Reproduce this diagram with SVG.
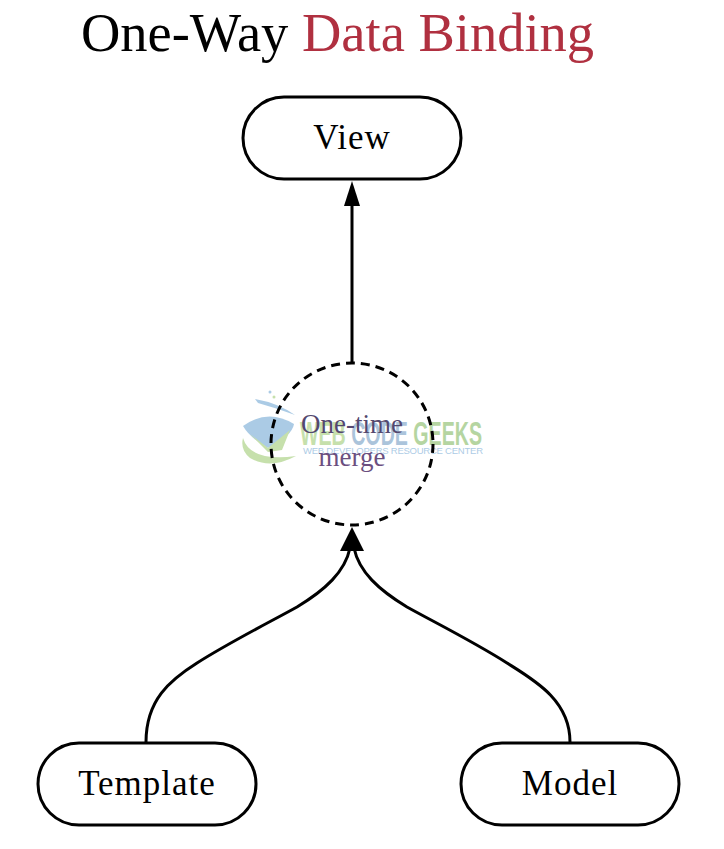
<svg xmlns="http://www.w3.org/2000/svg" width="724" height="849" viewBox="0 0 724 849">
<style>
text{font-family:"Liberation Serif",serif;text-anchor:middle}
.n{fill:#fff;stroke:#000;stroke-width:3}
.l{font-size:35px;fill:#000;letter-spacing:1px}
.s{font-size:27px}
.c{fill:none;stroke:#000;stroke-width:3}
.wm{font-family:"Liberation Sans",sans-serif}
</style>
<rect width="724" height="849" fill="#fff"/>
<text x="337.500" y="50.500" style="font-size:54.500px"><tspan fill="#000">One-Way </tspan><tspan fill="#b03040">Data Binding</tspan></text>
<g id="connectors">
<path class="c" d="M352 362V204"/><path d="M352 181L360 206H344Z"/>
<path class="c" d="M146 742C146 700 170 680 197 663C230 642 270 622 297 607C325 590 345 572 350 548"/>
<path class="c" d="M570 742C570 700 534 680 507 663C474 642 434 622 407 607C379 590 359 572 354 548"/>
<path d="M352 527L364 551H340Z"/>
</g>
<g id="view"><rect class="n" x="243" y="97" width="218" height="82" rx="41"/><text class="l" x="352" y="149">View</text></g>
<g id="merge">
<circle cx="352" cy="444" r="81" fill="#fff"/>
<g id="watermark" opacity=".65">
<path d="M243 426Q268 408 294 424Q292 436 268 448Q250 438 243 426Z" fill="#7fb0d8"/>
<path d="M250 434L268 448L290 430L282 450L268 452Z" fill="#a8d080"/>
<path d="M243 438Q250 462 296 456Q270 470 250 458Q240 450 243 438Z" fill="#a8d080"/>
<path d="M255 399Q278 403 295 415Q276 408 258 403Z" fill="#7fb0d8"/>
<circle cx="270" cy="392" r="1.500" fill="#7fb0d8"/><circle cx="274" cy="397" r="1.500" fill="#a8d080"/>
<text class="wm" x="391" y="445" style="font-size:34px;font-weight:bold" textLength="182" lengthAdjust="spacingAndGlyphs"><tspan fill="#a8d080">WEB </tspan><tspan fill="#7fa5c8">CODE </tspan><tspan fill="#8fc070">GEEKS</tspan></text>
<text class="wm" x="393" y="454" style="font-size:9.500px" fill="#7fb0d8" textLength="180">WEB DEVELOPERS RESOURCE CENTER</text>
</g>
<circle cx="352" cy="444" r="81" fill="none" stroke="#000" stroke-width="3" stroke-dasharray="9 6"/>
<text class="s" x="352" y="433" fill="#54486e">One-time</text><text class="s" x="352" y="466" fill="#6b4f80">merge</text></g>
<g id="template"><rect class="n" x="38" y="743" width="218" height="82" rx="41"/><text class="l" x="147" y="795">Template</text></g>
<g id="model"><rect class="n" x="461" y="743" width="218" height="82" rx="41"/><text class="l" x="570" y="795">Model</text></g>
</svg>
